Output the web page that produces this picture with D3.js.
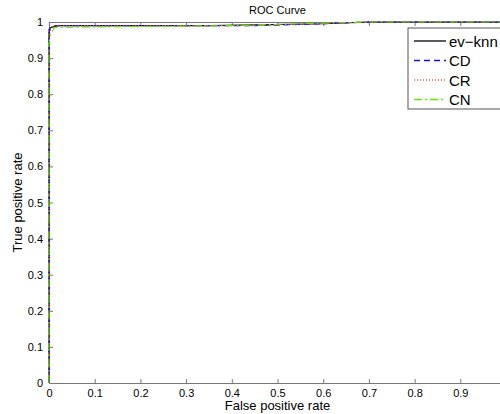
<!DOCTYPE html>
<html>
<head>
<meta charset="utf-8">
<script src="https://cdn.jsdelivr.net/npm/d3@7"></script>
<style>
  body { margin: 0; background: #fff; }
  text { font-family: "Liberation Sans", Arial, sans-serif; fill: #000; }
</style>
</head>
<body>
<div id="chart"></div>
<script>
var svgWidth = 500;
var svgHeight = 414;

// plot box (right edge of the axes runs off the picture, as in the original)
var margin = { top: 22, right: -6, bottom: 31, left: 49 };
var width = svgWidth - margin.left - margin.right;
var height = svgHeight - margin.top - margin.bottom;

// Data
var seriesNames = ["ev\u2212knn", "CD", "CR", "CN"];
var evknnFpr = [0, 0, 0.004, 0.02, 0.35, 0.6, 0.7, 1];
var evknnTpr = [0, 0.97, 0.985, 0.99, 0.99, 0.995, 1, 1];
var cdFpr = [0, 0, 0.008, 0.45, 0.6, 0.7, 1];
var cdTpr = [0, 0.98, 0.99, 0.99, 0.995, 1, 1];
var crFpr = [0, 0, 0.008, 0.45, 0.6, 0.7, 1];
var crTpr = [0, 0.975, 0.99, 0.99, 0.996, 1, 1];
var cnFpr = [0, 0, 0.003, 0.012, 0.4, 0.6, 0.7, 1];
var cnTpr = [0, 0.94, 0.965, 0.985, 0.99, 0.997, 1, 1];
var xTicks = [0, 0.1, 0.2, 0.3, 0.4, 0.5, 0.6, 0.7, 0.8, 0.9];
var yTicks = [0, 0.1, 0.2, 0.3, 0.4, 0.5, 0.6, 0.7, 0.8, 0.9, 1];

var series = [
  { name: seriesNames[0], x: evknnFpr, y: evknnTpr, color: "#000", dash: null },
  { name: seriesNames[1], x: cdFpr, y: cdTpr, color: "#1010ff", dash: "6,4" },
  { name: seriesNames[2], x: crFpr, y: crTpr, color: "#ff4040", dash: "1,2" },
  { name: seriesNames[3], x: cnFpr, y: cnTpr, color: "#5fe800", dash: "8,3,2,3" }
];

var svg = d3.select("#chart")
  .append("svg")
  .attr("width", svgWidth)
  .attr("height", svgHeight);

var chartGroup = svg.append("g")
  .attr("transform", `translate(${margin.left}, ${margin.top})`);

var xScale = d3.scaleLinear().domain([0, 1]).range([0, width]);
var yScale = d3.scaleLinear().domain([0, 1]).range([height, 0]);

// Axes, MATLAB style: ticks pointing inwards
var bottomAxis = d3.axisBottom(xScale).tickValues(xTicks)
  .tickFormat(d3.format("~g")).tickSizeInner(-4).tickSizeOuter(0).tickPadding(6);
var leftAxis = d3.axisLeft(yScale).tickValues(yTicks)
  .tickFormat(d3.format("~g")).tickSizeInner(-4).tickSizeOuter(0).tickPadding(6);
var topAxis = d3.axisTop(xScale).tickValues(xTicks)
  .tickFormat("").tickSizeInner(-4).tickSizeOuter(0);

var gx = chartGroup.append("g")
  .attr("transform", `translate(0, ${height})`)
  .call(bottomAxis);
var gy = chartGroup.append("g").call(leftAxis);
var gt = chartGroup.append("g").call(topAxis);

[gx, gy, gt].forEach(function(g) {
  g.select(".domain").attr("stroke", "#777").attr("stroke-width", 1.2);
  g.selectAll(".tick line").attr("stroke", "#777");
  g.selectAll(".tick text").attr("font-size", "11px")
    .style("font-family", "'Liberation Sans', Arial, sans-serif").attr("fill", "#000");
});

// Curves
var line = d3.line()
  .x(function(d) { return xScale(d[0]); })
  .y(function(d) { return yScale(d[1]); });

series.forEach(function(s) {
  chartGroup.append("path")
    .datum(d3.zip(s.x, s.y))
    .attr("fill", "none")
    .attr("stroke", s.color)
    .attr("stroke-width", 1.1)
    .attr("stroke-dasharray", s.dash)
    .attr("d", line);
});

// Title and axis labels
chartGroup.append("text")
  .attr("x", width / 2)
  .attr("y", -8)
  .attr("text-anchor", "middle")
  .attr("font-size", "11px")
  .text("ROC Curve");

chartGroup.append("text")
  .attr("transform", "rotate(-90)")
  .attr("x", -height / 2)
  .attr("y", -27)
  .attr("text-anchor", "middle")
  .attr("font-size", "13px")
  .text("True positive rate");

chartGroup.append("text")
  .attr("x", width / 2)
  .attr("y", height + 27)
  .attr("text-anchor", "middle")
  .attr("font-size", "13px")
  .text("False positive rate");

// Legend
var legend = svg.append("g").attr("transform", "translate(408, 28)");
legend.append("rect")
  .attr("width", 110).attr("height", 81)
  .attr("fill", "#fff").attr("stroke", "#555").attr("stroke-width", 1);

series.forEach(function(s, i) {
  var yy = 13 + i * 19.5;
  legend.append("line")
    .attr("x1", 6).attr("x2", 38).attr("y1", yy).attr("y2", yy)
    .attr("stroke", s.color).attr("stroke-width", 1.3)
    .attr("stroke-dasharray", s.dash);
  legend.append("text")
    .attr("x", 41).attr("y", yy + 5.5)
    .attr("font-size", "15px")
    .text(s.name);
});
</script>
</body>
</html>
